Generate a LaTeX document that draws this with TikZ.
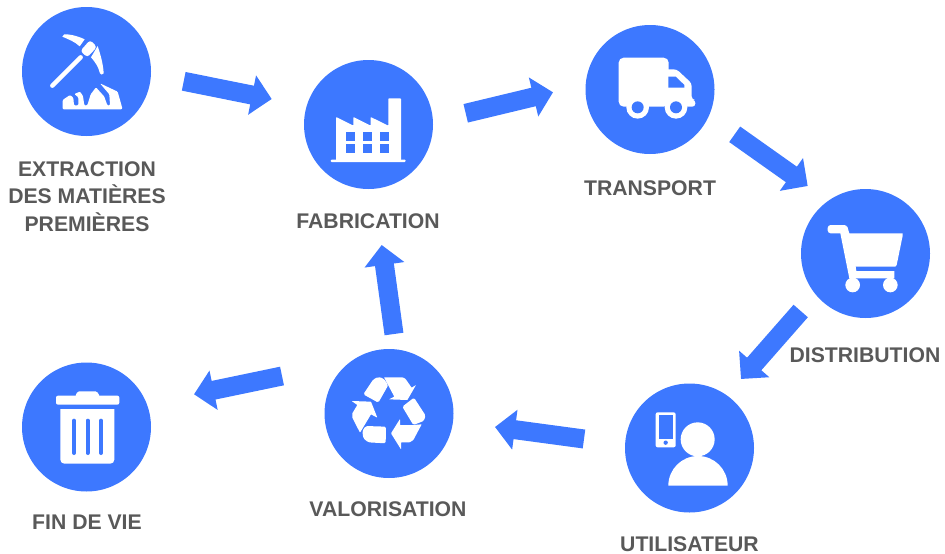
\documentclass[tikz,border=0pt]{standalone}
\usepackage{fontspec}
\setmainfont{Liberation Sans}
\usetikzlibrary{arrows.meta,calc}
\definecolor{flowblue}{HTML}{3D78FF}
\definecolor{labelgrey}{HTML}{595959}
\tikzset{
  stage/.style={circle,fill=flowblue,minimum size=129pt,inner sep=0pt},
  caption/.style={text=labelgrey,font=\fontsize{21.2}{27.5}\selectfont\bfseries,align=center,inner sep=0pt},
  flow/.style={draw=flowblue,line width=19pt,-{Triangle[length=20pt,width=39pt]}},
  ico/.style={fill=white,draw=none},
  icoblue/.style={fill=flowblue,draw=none},
  zoomed/.style={shift={#1},scale=1/3}
}
\begin{document}
\begin{tikzpicture}[x=1pt,y=-1pt]
\useasboundingbox (0,0) rectangle (945,554);
\node[stage] (extraction) at (86.5,71.5) {};
\node[stage] (fabrication) at (368.5,124.5) {};
\node[stage] (transport) at (650,89.5) {};
\node[stage] (distribution) at (865.5,253.5) {};
\node[stage] (utilisateur) at (689.5,448) {};
\node[stage] (valorisation) at (389,413.5) {};
\node[stage] (findevie) at (86.5,427) {};
\node[caption] (l1) at (87,196.5) {EXTRACTION\\DES MATIÈRES\\PREMIÈRES};
\node[caption] (l2) at (368,221) {FABRICATION};
\node[caption] (l3) at (650,188.5) {TRANSPORT};
\node[caption] (l4) at (865,355.5) {DISTRIBUTION};
\node[caption] (l5) at (689.5,544) {UTILISATEUR};
\node[caption] (l6) at (388,509.5) {VALORISATION};
\node[caption] (l7) at (87,522.5) {FIN DE VIE};
\draw[flow] ($(extraction)+(97.2,9.8)$) -- ($(fabrication)+(-96.8,-25.5)$);
\draw[flow] ($(fabrication)+(97.2,-11.2)$) -- ($(transport)+(-97,2.8)$);
\draw[flow] ($(transport)+(84.7,44.8)$) -- ($(distribution)+(-57.8,-67.5)$);
\draw[flow] ($(distribution)+(-64.8,57.5)$) -- ($(utilisateur)+(51.5,-69)$);
\draw[flow] ($(utilisateur)+(-105.5,-9)$) -- ($(valorisation)+(106,13.5)$);
\draw[flow] ($(valorisation)+(5,-79.5)$) -- ($(fabrication)+(13.2,120.5)$);
\draw[flow] ($(valorisation)+(-107,-37.5)$) -- ($(findevie)+(107.5,-32.7)$);
% pickaxe and rocks
\begin{scope}[zoomed={(10,0)}]
  \draw[white,line width=4.5pt,line cap=round] (127,257) -- (212,172);
  \fill[ico] (157,110) .. controls (158,103) and (165,102) .. (172,103) .. controls (190,105) and (208,110) .. (224,118) -- (209,139) .. controls (195,125) and (175,118) .. cycle;
  \fill[ico,rounded corners=3pt] (211,153) -- (240,120) -- (261,141) -- (232,172) -- cycle;
  \fill[ico] (263,138) .. controls (272,165) and (280,195) .. (281,220) .. controls (278,226) and (272,224) .. (270,220) .. controls (265,200) and (255,185) .. (243,172) -- cycle;
  \fill[ico,rounded corners=1pt] (158,328) -- (158,300) -- (180,285) -- (190,293) -- (192,316) -- (205,316) -- (205,292) -- (193,282) -- (210,275) -- (219,288) -- (223,316) -- (232,316) -- (242,283) -- (258,262) -- (283,290) -- (292,316) -- (300,316) -- (298,283) -- (270,250) -- (323,275) -- (337,325) -- (335,328) -- cycle;
\end{scope}
% factory
\begin{scope}[zoomed={(295,55)}]
  \fill[ico,rounded corners=1pt] (107,314) rectangle (332,321);
  \fill[ico,rounded corners=0.7pt] (123,316) -- (123,186) -- (175,212) -- (175,186) -- (227,212) -- (227,186) -- (280,212) -- (280,130) -- (318,130) -- (318,316) -- cycle;
  \foreach \wx in {154,205,256} \foreach \wy in {231,267}
    \fill[icoblue] (\wx,\wy) rectangle ++(26,27);
\end{scope}
% truck
\begin{scope}[zoomed={(575,20)}]
  \fill[ico,rounded corners=5pt] (131,113) rectangle (281,260);
  \fill[ico,rounded corners=3pt] (270,148) -- (305,148) -- (350,190) -- (350,238) -- (361,240) -- (361,260) -- (270,260) -- cycle;
  \fill[icoblue] (280,170) -- (302,170) -- (328,195) -- (328,203) -- (280,203) -- cycle;
  \foreach \wx in {188,303} {
    \fill[ico] (\wx,262) circle[radius=34];
    \fill[icoblue] (\wx,262) circle[radius=18];
  }
\end{scope}
% cart
\begin{scope}[zoomed={(790,185)}]
  \fill[ico,rounded corners=3pt] (113,120) rectangle (172,145);
  \fill[ico] (150,140) -- (172,125) -- (178,145) -- (338,145) -- (338,152) -- (320,240) -- (316,245) -- (197,245) -- (199,258) -- (313,258) -- (313,280) -- (178,280) -- cycle;
  \fill[ico] (188,300) circle[radius=22];
  \fill[ico] (301,300) circle[radius=22];
\end{scope}
% user with phone
\begin{scope}[zoomed={(615,380)}]
  \fill[ico] (160,317) arc[start angle=180,end angle=360,radius=89] -- cycle;
  \fill[ico] (248,178) circle[radius=51];
  \fill[ico,rounded corners=2pt] (122,97) rectangle (182,202);
  \fill[icoblue] (131,106) rectangle (173,178);
  \fill[icoblue] (152,188) circle[radius=6.5];
\end{scope}
% recycling
\begin{scope}[zoomed={(315,345)}]
  \fill[ico,rounded corners=1.5pt] (145,148) -- (175,103) -- (190,96) -- (205,100) -- (220,120) -- (190,173) -- cycle;
  \fill[ico,rounded corners=0.5pt] (207,97) -- (262,97) -- (271,101) -- (290,128) -- (303,120) -- (277,165) -- (222,163) -- (238,155) -- cycle;
  \fill[ico,rounded corners=1.5pt] (262,185) -- (297,158) -- (332,212) -- (326,228) -- (295,240) -- cycle;
  \fill[ico,rounded corners=0.5pt] (320,238) -- (295,285) -- (284,292) -- (258,292) -- (258,313) -- (228,265) -- (255,222) -- (255,240) -- (295,240) -- cycle;
  \fill[ico,rounded corners=1.5pt] (213,245) -- (212,295) -- (160,292) -- (145,280) -- (142,258) -- (152,243) -- cycle;
  \fill[ico,rounded corners=0.5pt] (110,168) -- (168,170) -- (187,218) -- (168,208) -- (135,263) -- (112,218) -- (112,205) -- (127,180) -- cycle;
\end{scope}
% bin
\begin{scope}[zoomed={(12,360)}]
  \fill[ico,rounded corners=2pt] (132,107) rectangle (322,134);
  \fill[ico,rounded corners=1.5pt] (189,110) -- (197,94) -- (255,94) -- (264,110) -- cycle;
  \fill[ico,rounded corners=4pt] (145,135) -- (307,135) -- (307,311) -- (145,311) -- cycle;
  \fill[icoblue] (130,134) rectangle (324,148);
  \foreach \sx in {186,227,267}
    \draw[flowblue,line width=4pt,line cap=round] (\sx,182) -- (\sx,279);
\end{scope}
\end{tikzpicture}
\end{document}
